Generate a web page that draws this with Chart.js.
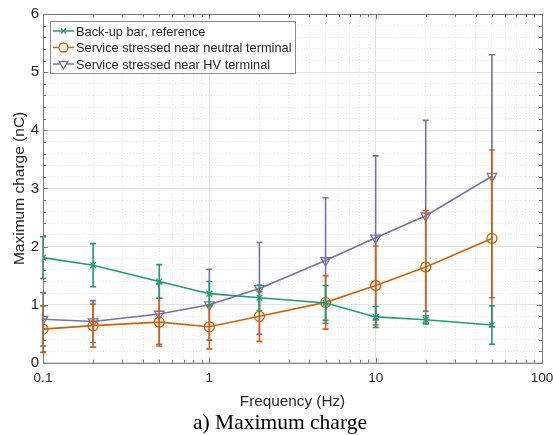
<!DOCTYPE html>
<html>
<head>
<meta charset="utf-8">
<script src="https://cdn.jsdelivr.net/npm/chart.js@4"></script>
<style>
  html, body { margin: 0; padding: 0; background: #fff; }
  #wrap { width: 553px; height: 435px; }
</style>
</head>
<body>
<div id="wrap"><canvas id="chargeChart" width="553" height="435"></canvas></div>
<script>
// data
const freqs = [0.1, 0.2, 0.5, 1, 2, 5, 10, 20, 50];
const backupMean = [1.81, 1.68, 1.40, 1.19, 1.12, 1.03, 0.79, 0.74, 0.65];
const backupErr = [0.36, 0.37, 0.29, 0.21, 0.22, 0.30, 0.18, 0.07, 0.33];
const neutralMean = [0.58, 0.64, 0.70, 0.62, 0.80, 1.04, 1.33, 1.65, 2.14];
const neutralErr = [0.40, 0.37, 0.41, 0.38, 0.43, 0.46, 0.68, 0.97, 1.52];
const hvMean = [0.75, 0.71, 0.84, 1.00, 1.28, 1.76, 2.15, 2.53, 3.21];
const hvErr = [0.46, 0.36, 0.52, 0.61, 0.79, 1.08, 1.41, 1.64, 2.09];
const xLabels = ['0.1', '1', '10', '100'];
const yLabels = ['0', '1', '2', '3', '4', '5', '6'];

const GREEN = '#1b9e77', ORANGE = '#d95f02', PURPLE = '#7570b3';
const TXT = '#262626';
const SANS = '"Liberation Sans", Arial, sans-serif';

function pts(ys) {
    return freqs.map((f, i) => ({ x: f, y: ys[i] }));
}

// error bars, drawn from the scales
const errorBars = {
    id: 'errorBars',
    afterDatasetDraw(chart, args) {
        const ds = chart.data.datasets[args.index];
        if (!ds.errors) return;
        const x = chart.scales.x, y = chart.scales.y, c = chart.ctx;
        c.save();
        c.strokeStyle = ds.borderColor;
        c.lineWidth = 1.6;
        ds.data.forEach((p, i) => {
            const px = x.getPixelForValue(p.x);
            const top = y.getPixelForValue(p.y + ds.errors[i]);
            const bot = y.getPixelForValue(p.y - ds.errors[i]);
            c.beginPath();
            c.moveTo(px, top); c.lineTo(px, bot);
            c.moveTo(px - 3, top); c.lineTo(px + 3, top);
            c.moveTo(px - 3, bot); c.lineTo(px + 3, bot);
            c.stroke();
        });
        c.restore();
    }
};

// box round the axes, inward ticks, legend inside the plot
const frame = {
    id: 'frame',
    afterDraw(chart) {
        const a = chart.chartArea, c = chart.ctx;
        const x = chart.scales.x, y = chart.scales.y;
        c.save();
        c.strokeStyle = '#7a7a7a';
        c.lineWidth = 1;
        c.strokeRect(a.left + 0.5, a.top + 0.5, a.right - a.left, a.bottom - a.top);
        x.ticks.forEach(t => {
            const px = Math.round(x.getPixelForValue(t.value)) + 0.5;
            const len = xLabels.includes(String(t.value)) ? 5 : 3;
            c.beginPath();
            c.moveTo(px, a.bottom); c.lineTo(px, a.bottom - len);
            c.moveTo(px, a.top); c.lineTo(px, a.top + len);
            c.stroke();
        });
        y.ticks.forEach(t => {
            const py = Math.round(y.getPixelForValue(t.value)) + 0.5;
            const len = yLabels.includes(String(t.value)) ? 5 : 3;
            c.beginPath();
            c.moveTo(a.left, py); c.lineTo(a.left + len, py);
            c.moveTo(a.right, py); c.lineTo(a.right - len, py);
            c.stroke();
        });

        // legend
        const lx = a.left + 7, ly = a.top + 7, lw = 245, lh = 52;
        c.fillStyle = '#fff';
        c.fillRect(lx, ly, lw, lh);
        c.strokeStyle = '#8a8a8a';
        c.strokeRect(lx + 0.5, ly + 0.5, lw, lh);
        c.textBaseline = 'middle';
        chart.data.datasets.forEach((ds, i) => {
            const cy = ly + 10 + i * 16.5;
            c.strokeStyle = ds.borderColor;
            c.lineWidth = 1.5;
            c.beginPath();
            c.moveTo(lx + 3, cy); c.lineTo(lx + 24, cy);
            c.stroke();
            c.fillStyle = '#fff';
            c.lineWidth = 1.3;
            Chart.helpers.drawPoint(c, {
                pointStyle: ds.pointStyle, radius: ds.pointRadius - 0.5,
                rotation: ds.pointRotation || 0, borderWidth: 1.3
            }, lx + 13.5, cy);
            c.fillStyle = TXT;
            c.font = '12.8px ' + SANS;
            c.fillText(ds.label, lx + 26, cy + 1);
        });
        c.restore();
    }
};

new Chart(document.getElementById('chargeChart'), {
    type: 'scatter',
    data: {
        datasets: [{
            label: 'Back-up bar, reference',
            data: pts(backupMean),
            errors: backupErr,
            borderColor: GREEN,
            backgroundColor: GREEN,
            pointStyle: 'crossRot',
            pointRadius: 4,
            pointBorderWidth: 1.3,
            borderWidth: 1.6,
            showLine: true
        }, {
            label: 'Service stressed near neutral terminal',
            data: pts(neutralMean),
            errors: neutralErr,
            borderColor: ORANGE,
            backgroundColor: 'rgba(0,0,0,0)',
            pointStyle: 'circle',
            pointRadius: 5,
            pointBorderWidth: 1.3,
            borderWidth: 1.6,
            showLine: true
        }, {
            label: 'Service stressed near HV terminal',
            data: pts(hvMean),
            errors: hvErr,
            borderColor: PURPLE,
            backgroundColor: 'rgba(0,0,0,0)',
            pointStyle: 'triangle',
            pointRotation: 180,
            pointRadius: 5.5,
            pointBorderWidth: 1.3,
            borderWidth: 1.6,
            showLine: true
        }]
    },
    options: {
        responsive: false,
        animation: false,
        layout: { padding: { top: 14, right: 11, bottom: 0, left: 18 } },
        plugins: {
            legend: { display: false },
            tooltip: { enabled: false },
            title: {
                display: true,
                position: 'bottom',
                text: 'a) Maximum charge',
                color: '#000',
                font: { family: '"Liberation Serif", "Times New Roman", serif', size: 21.5, weight: 'normal', lineHeight: 1.1 },
                padding: { top: 2, bottom: 0 }
            }
        },
        scales: {
            x: {
                type: 'logarithmic',
                min: 0.1, max: 100,
                afterBuildTicks(s) {
                    const t = [];
                    for (let e = -1; e < 2; e++)
                        for (let m = 1; m < 10; m++) t.push({ value: +(m * Math.pow(10, e)).toPrecision(3) });
                    t.push({ value: 100 });
                    s.ticks = t;
                },
                afterFit(s) { s.paddingLeft = 0; s.paddingRight = 0; },
                ticks: {
                    autoSkip: false,
                    maxRotation: 0,
                    color: TXT,
                    font: { family: SANS, size: 13.5 },
                    padding: 7.5,
                    callback: v => xLabels.includes(String(v)) ? String(v) : ''
                },
                grid: {
                    drawTicks: false,
                    color: ctx => xLabels.includes(String(ctx.tick.value)) ? '#e3e3e3' : '#e6e6e6',
                    lineWidth: 1
                },
                border: {
                    display: false,
                    dash: ctx => xLabels.includes(String(ctx.tick.value)) ? [] : [1, 2]
                },
                title: {
                    display: true,
                    text: 'Frequency (Hz)',
                    color: TXT,
                    font: { family: SANS, size: 15.3, lineHeight: 1.0 },
                    padding: { top: 0, bottom: 0 }
                }
            },
            y: {
                min: 0, max: 6,
                afterBuildTicks(s) {
                    const t = [];
                    for (let k = 0; k <= 30; k++) t.push({ value: +(k * 0.2).toFixed(1) });
                    s.ticks = t;
                },
                afterFit(s) { s.width = 25; s.paddingTop = 0; s.paddingBottom = 0; },
                ticks: {
                    autoSkip: false,
                    color: TXT,
                    font: { family: SANS, size: 15 },
                    padding: 4,
                    callback: v => yLabels.includes(String(v)) ? String(v) : ''
                },
                grid: {
                    drawTicks: false,
                    color: ctx => yLabels.includes(String(ctx.tick.value)) ? '#e3e3e3' : '#e6e6e6',
                    lineWidth: 1
                },
                border: {
                    display: false,
                    dash: ctx => yLabels.includes(String(ctx.tick.value)) ? [] : [1, 2]
                },
                title: {
                    display: true,
                    text: 'Maximum charge (nC)',
                    color: TXT,
                    font: { family: SANS, size: 15.5 },
                    padding: { top: -8, bottom: 1 }
                }
            }
        }
    },
    plugins: [errorBars, frame]
});
</script>
</body>
</html>
